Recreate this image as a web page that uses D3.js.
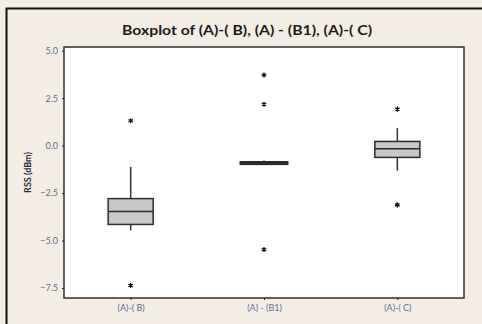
<!DOCTYPE html>
<html>
<head>
<meta charset="utf-8">
<script src="https://cdn.jsdelivr.net/npm/d3@7"></script>
<style>
  body { margin: 0; background: #f4ede5; }
  svg { display: block; }
</style>
</head>
<body>
<div id="graph"></div>
<script>
// data
let categories = ["(A)-( B)", "(A) - (B1)", "(A)-( C)"];
let q1 = [-4.15, -0.92, -0.62];
let median = [-3.47, -0.92, -0.16];
let q3 = [-2.79, -0.92, 0.22];
let whiskerLow = [-4.47, -0.92, -1.32];
let whiskerHigh = [-1.12, -0.78, 0.92];
let outliers = [[1.31, -7.36], [3.72, 2.18, -5.47], [1.92, -3.12]];
let yTicks = [5.0, 2.5, 0.0, -2.5, -5.0, -7.5];

let width = 482, height = 324;
let plotLeft = 64, plotRight = 464, plotTop = 47, plotBottom = 298;
let font = "Lato, 'Open Sans', sans-serif";

let svg = d3.select("#graph").append("svg")
    .attr("width", width).attr("height", height);

// frame (only top and left edge are visible in the cropped picture)
svg.append("rect").attr("x", 0).attr("y", 0).attr("width", width).attr("height", height).attr("fill", "#f4ede5");
svg.append("path").attr("d", "M6.5," + height + "V8.5H" + width)
    .attr("fill", "none").attr("stroke", "#111").attr("stroke-width", 2);

let x = d3.scalePoint().domain(categories).range([plotLeft, plotRight]).padding(0.5);
let y = d3.scaleLinear().domain([5.0 + 3.7 / 19.04, -7.5 - 10 / 19.04]).range([plotTop, plotBottom]);

svg.append("rect").attr("x", plotLeft).attr("y", plotTop)
    .attr("width", plotRight - plotLeft).attr("height", plotBottom - plotTop)
    .attr("fill", "#fff").attr("stroke", "#3a3a3a").attr("stroke-width", 1.6);

// axes
let yAxis = svg.append("g").attr("transform", "translate(" + plotLeft + ",0)")
    .call(d3.axisLeft(y).tickValues(yTicks).tickFormat(d3.format(".1f")).tickSize(2).tickPadding(4));
let xAxis = svg.append("g").attr("transform", "translate(0," + plotBottom + ")")
    .call(d3.axisBottom(x).tickSize(2).tickPadding(5));
[yAxis, xAxis].forEach(function(a) {
    a.select(".domain").remove();
    a.selectAll(".tick line").attr("stroke", "#222");
    a.selectAll("text").attr("fill", "#5a6f88")
        .style("font-family", font).style("font-size", "9px");
});

svg.append("text").attr("x", 247).attr("y", 35).attr("text-anchor", "middle")
    .attr("textLength", 250).attr("lengthAdjust", "spacingAndGlyphs")
    .style("font-family", font).style("font-weight", "bold").style("font-size", "13px")
    .attr("fill", "#1a1a1a")
    .text("Boxplot of (A)-( B), (A) - (B1), (A)-( C)");

svg.append("text").attr("transform", "translate(31," + ((plotTop + plotBottom) / 2) + ") rotate(-90)")
    .attr("text-anchor", "middle")
    .style("font-family", font).style("font-weight", "bold").style("font-size", "9px")
    .attr("fill", "#2a2a3a")
    .text("RSS (dBm)");

let boxW = 45;
let boxes = svg.selectAll(".box").data(categories).enter().append("g").classed("box", true);

boxes.append("line")
    .attr("x1", function(d) { return x(d); }).attr("x2", function(d) { return x(d); })
    .attr("y1", function(d, i) { return y(whiskerHigh[i]); })
    .attr("y2", function(d, i) { return y(q3[i]); })
    .attr("stroke", "#333").attr("stroke-width", 1.5);
boxes.append("line")
    .attr("x1", function(d) { return x(d); }).attr("x2", function(d) { return x(d); })
    .attr("y1", function(d, i) { return y(q1[i]); })
    .attr("y2", function(d, i) { return y(whiskerLow[i]); })
    .attr("stroke", "#333").attr("stroke-width", 1.5);

boxes.append("rect")
    .attr("x", function(d) { return x(d) - boxW / 2; })
    .attr("y", function(d, i) { return y(q3[i]); })
    .attr("width", boxW)
    .attr("height", function(d, i) { return Math.max(y(q1[i]) - y(q3[i]), 0.01); })
    .attr("fill", "#c8c8c8").attr("stroke", "#2b2b2b")
    .attr("stroke-width", function(d, i) { return q1[i] == q3[i] ? 4 : 1.5; });

boxes.append("line")
    .attr("x1", function(d) { return x(d) - boxW / 2; })
    .attr("x2", function(d) { return x(d) + boxW / 2; })
    .attr("y1", function(d, i) { return y(median[i]); })
    .attr("y2", function(d, i) { return y(median[i]); })
    .attr("stroke", "#2b2b2b")
    .attr("stroke-width", function(d, i) { return q1[i] == q3[i] ? 4 : 1.5; });

let star = d3.symbol().type(d3.symbolAsterisk).size(18);
boxes.each(function(d, i) {
    d3.select(this).selectAll(".outlier").data(outliers[i]).enter().append("path")
        .classed("outlier", true)
        .attr("d", star)
        .attr("transform", function(v) { return "translate(" + x(d) + "," + y(v) + ")"; })
        .attr("fill", "none").attr("stroke", "#111").attr("stroke-width", 1.3);
});
</script>
</body>
</html>
